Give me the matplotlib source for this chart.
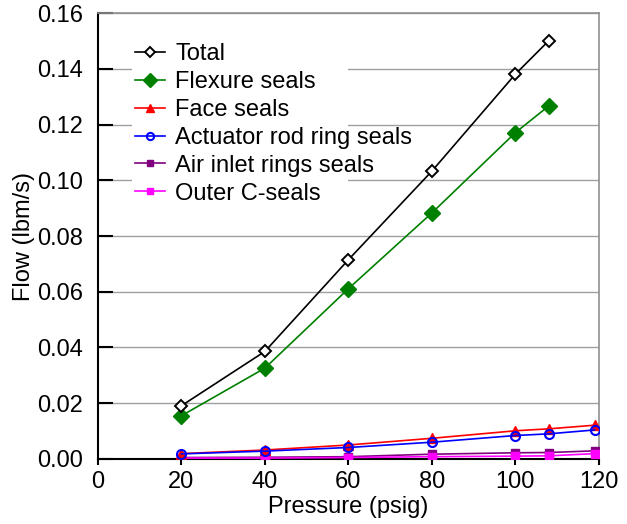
import matplotlib
matplotlib.use("Agg")
import matplotlib.pyplot as plt
from matplotlib.patches import Rectangle

plt.rcParams['font.family'] = ['Liberation Sans', 'DejaVu Sans']

# pressure points (psig)
p_main = [20, 40, 60, 80, 100, 108]
p_small = [20, 40, 60, 80, 100, 108, 119]

total = [0.0191, 0.0386, 0.0715, 0.1033, 0.1381, 0.1501]
flexure = [0.0155, 0.0326, 0.0611, 0.0883, 0.1171, 0.1267]
face = [0.0019, 0.0032, 0.0050, 0.0074, 0.0101, 0.0108, 0.0121]
actuator = [0.0018, 0.0028, 0.0041, 0.0060, 0.0084, 0.0090, 0.0104]
air_inlet = [0.0005, 0.0006, 0.0008, 0.0017, 0.0022, 0.0023, 0.0029]
outer_c = [0.0003, 0.0003, 0.0005, 0.0008, 0.0010, 0.0011, 0.0019]

xticks = [0, 20, 40, 60, 80, 100, 120]
yticks = [0.00, 0.02, 0.04, 0.06, 0.08, 0.10, 0.12, 0.14, 0.16]

fs = 17

fig = plt.figure(figsize=(6.27, 5.24), dpi=100)
ax = fig.add_axes([0.1563, 0.1242, 0.7987, 0.8506])

ax.plot(p_main, total, color='black', lw=1.2, marker='D', ms=6,
        mfc='white', mec='black', mew=1.4, label='Total', zorder=5)
ax.plot(p_main, flexure, color='#008000', lw=1.2, marker='D', ms=8.5,
        mfc='#008000', mec='#008000', label='Flexure seals', zorder=4)
ax.plot(p_small, face, color='#ff0000', lw=1.2, marker='^', ms=6.5,
        mfc='#ff0000', mec='#ff0000', label='Face seals', zorder=4)
ax.plot(p_small, actuator, color='#0000ff', lw=1.2, marker='o', ms=6.5,
        mfc='none', mec='#0000ff', mew=1.5, label='Actuator rod ring seals', zorder=5)
ax.plot(p_small, air_inlet, color='#800080', lw=1.2, marker='s', ms=5.5,
        mfc='#800080', mec='#800080', label='Air inlet rings seals', zorder=3)
ax.plot(p_small, outer_c, color='#ff00ff', lw=1.2, marker='s', ms=6,
        mfc='#ff00ff', mec='#ff00ff', label='Outer C-seals', zorder=3)

ax.set_xlim(0, 120)
ax.set_ylim(0, 0.16)
ax.set_xticks(xticks)
ax.set_yticks(yticks)
ax.set_yticklabels([f"{v:.2f}" for v in yticks])
ax.yaxis.grid(True, color='#a0a0a0', lw=1)
ax.set_axisbelow(True)

ax.tick_params(axis='y', direction='in', length=11, width=1.5, labelsize=fs, pad=11)
ax.tick_params(axis='x', direction='out', length=4, width=1.5, labelsize=fs, pad=5)

for s in ['left', 'bottom']:
    ax.spines[s].set_color('black')
    ax.spines[s].set_linewidth(1.5)
for s in ['top', 'right']:
    ax.spines[s].set_color('#909090')
    ax.spines[s].set_linewidth(1.2)

ax.set_xlabel('Pressure (psig)', fontsize=fs, labelpad=2)
ax.set_ylabel('Flow (lbm/s)', fontsize=fs, labelpad=1)

# white block behind the legend (hides the grid there, as in the original)
ax.add_patch(Rectangle((0.067, 0.56), 0.433, 0.42, transform=ax.transAxes,
                       facecolor='white', edgecolor='none', zorder=1.5))

leg = ax.legend(loc='upper left', bbox_to_anchor=(0.041, 0.97), fontsize=fs,
                frameon=False, handlelength=1.25, handletextpad=0.45,
                labelspacing=0.25, borderpad=0.2, markerscale=0.8)

fig.savefig('out.png', dpi=100)
